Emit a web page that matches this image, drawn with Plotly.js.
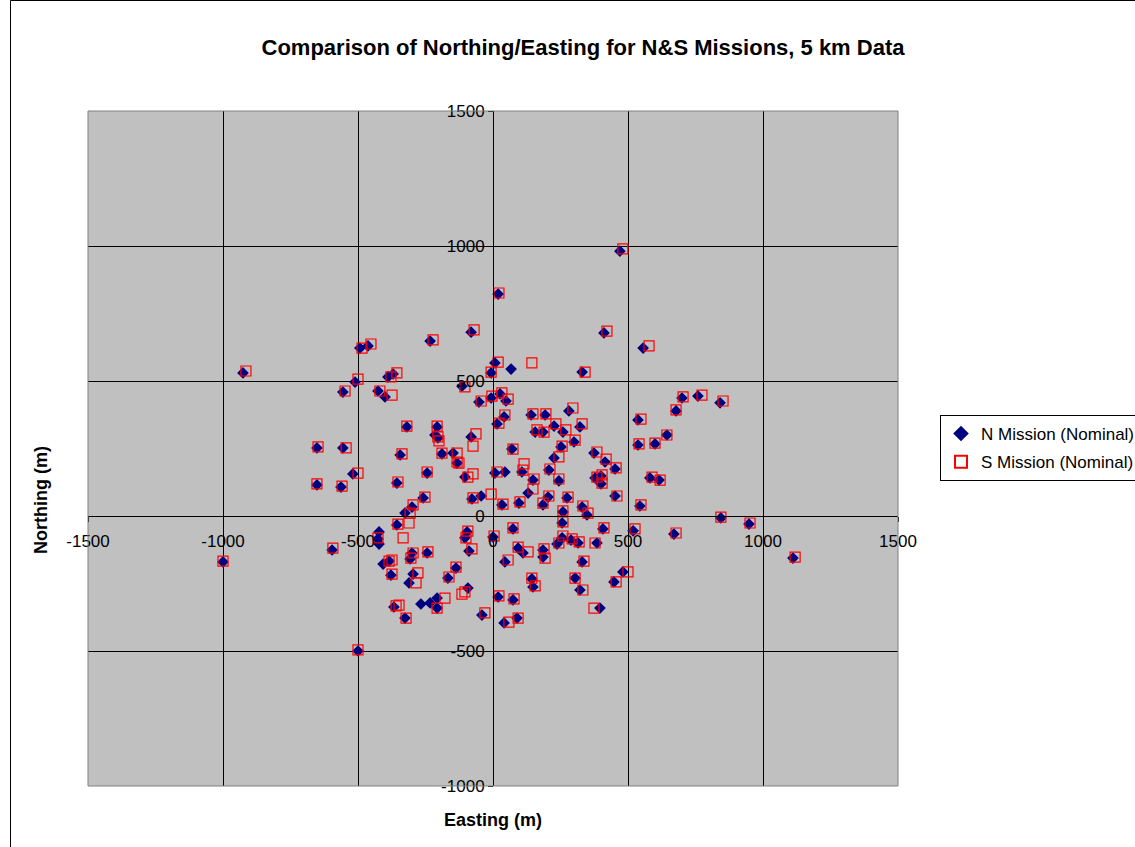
<!DOCTYPE html>
<html>
<head>
<meta charset="utf-8">
<script src="https://cdn.plot.ly/plotly-3.0.1.min.js"></script>
<style>html,body{margin:0;padding:0;background:#fff;}#chart{width:1135px;height:847px;}</style>
</head>
<body>
<div id="chart"></div>
<script>
// N Mission (Nominal): easting / northing in metres
const nEasting = [470,19,-81,411,-233,-493,-463,556,-926,7,67,330,-7,-115,-511,-556,-389,-370,-426,-400,-52,-7,26,48,41,15,141,193,281,226,322,156,185,259,300,252,226,207,244,374,378,-319,-207,-215,-204,-81,70,-344,-189,-148,-133,-244,-104,7,44,107,148,130,204,274,330,348,259,185,96,33,-44,-78,-259,-300,-326,700,759,841,678,537,644,537,600,415,452,400,400,581,615,452,544,844,948,407,519,670,1111,481,448,396,-596,-1000,-500,-422,-426,-422,-356,-407,-385,-378,-367,-96,-104,-89,0,74,93,111,185,185,237,256,289,315,385,256,330,304,322,144,148,44,19,74,-41,41,89,-300,-244,-307,-296,-311,-167,-137,-93,-267,-233,-207,-207,-326,-652,-556,-519,-652,-563,-356];
const nNorthing = [981,822,681,678,648,622,630,622,530,567,544,533,530,481,496,459,515,526,463,441,422,437,452,426,367,341,374,374,389,333,330,311,311,311,274,256,215,170,130,233,141,330,330,300,289,293,248,226,230,233,196,159,144,159,163,163,133,85,70,67,33,4,15,41,48,41,74,63,67,33,11,437,444,419,389,356,300,263,267,200,174,148,119,141,133,74,37,-7,-30,-48,-55,-67,-156,-207,-244,-341,-126,-170,-500,-59,-85,-104,-33,-178,-167,-219,-337,-59,-81,-130,-78,-48,-119,-137,-126,-152,-104,-81,-89,-100,-100,-26,-170,-230,-274,-233,-263,-170,-300,-311,-367,-396,-378,-137,-137,-159,-215,-248,-230,-193,-267,-326,-322,-304,-341,-378,252,252,156,115,107,122];
// S Mission (Nominal): easting / northing in metres
const sEasting = [481,22,-70,422,-222,-485,-452,578,-915,19,144,341,-7,-104,-500,-548,-378,-356,-419,-374,-44,-4,33,56,44,22,148,196,296,233,330,163,189,270,304,256,244,211,244,385,385,-319,-207,-204,-200,-63,-74,74,-337,-189,-133,-133,-126,-244,-93,-74,15,111,115,152,148,207,278,333,352,259,185,100,37,-7,-74,-252,-296,-307,704,774,852,678,548,644,541,600,419,456,404,404,589,619,459,548,844,952,411,526,678,1119,500,456,374,-593,-1000,-500,-426,-352,-385,-374,-374,-359,-348,-311,-333,-93,-100,-78,4,74,93,130,189,193,244,259,293,319,378,259,337,304,333,144,156,56,22,78,-30,59,93,-296,-241,-304,-278,-285,-163,-137,-104,-115,-178,-207,-322,-648,-544,-500,-652,-559,-352];
const sNorthing = [989,826,689,685,652,622,637,630,537,570,567,533,533,478,507,463,515,530,463,448,426,444,456,433,374,344,378,378,400,341,341,319,311,319,281,259,219,174,137,237,144,333,333,293,278,304,259,248,230,233,233,200,196,163,144,156,163,170,193,137,100,74,70,37,11,19,48,52,44,81,67,70,41,11,441,448,426,393,359,300,267,270,211,178,152,122,144,133,74,41,-4,-26,-44,-48,-63,-152,-207,-244,-341,-119,-167,-496,-81,-30,-167,-163,-215,-333,-330,-26,-81,-56,-81,-122,-74,-44,-115,-133,-122,-156,-100,-74,-85,-96,-100,-22,-167,-230,-274,-230,-259,-163,-296,-307,-359,-393,-378,-137,-133,-156,-211,-248,-226,-189,-281,-289,-304,-341,-378,256,252,159,119,111,126];

const seriesNames = ['N Mission (Nominal)', 'S Mission (Nominal)'];
const xTicks = [-1500,-1000,-500,0,500,1000,1500];
const yTicks = [-1000,-500,0,500,1000,1500];

const FONT = 'Liberation Sans, Arial, sans-serif';

const traces = [
  {
    type: 'scatter', mode: 'markers', name: seriesNames[0], legendgroup: 'n',
    x: nEasting, y: nNorthing,
    marker: {symbol: 'diamond', size: 9, color: '#000080', line: {width: 0}}
  },
  {
    type: 'scatter', mode: 'markers', name: seriesNames[1], legendgroup: 's',
    x: sEasting, y: sNorthing,
    marker: {symbol: 'square-open', size: 10, color: '#FF0000', line: {width: 1.2, color: '#FF0000'}}
  }
];

const L = 88, R = 898, T = 111, B = 786;
const W = R - L, H = B - T;
const px2x = p => (p - L) / W;
const py2y = p => (B - p) / H;

const layout = {
  width: 1135, height: 847,
  margin: {l: L, r: 1135 - R, t: T, b: 847 - B, pad: 0, autoexpand: false},
  paper_bgcolor: '#FFFFFF',
  plot_bgcolor: '#C0C0C0',
  font: {family: FONT, color: '#000000', size: 17},
  title: {
    text: '<b>Comparison of Northing/Easting for N&S Missions, 5 km Data</b>',
    font: {family: FONT, size: 22, color: '#000'},
    x: 583 / 1135, xref: 'container', xanchor: 'center',
    y: 1 - 47 / 847, yref: 'container', yanchor: 'middle'
  },
  xaxis: {
    range: [-1500, 1500], tickvals: xTicks, ticktext: xTicks.map(String),
    anchor: 'free', position: 0.4, automargin: false,
    showgrid: true, gridcolor: '#000000', gridwidth: 1,
    zeroline: false, showline: true, linecolor: '#000000', linewidth: 1,
    ticks: 'outside', ticklen: 5, tickcolor: '#000', tickwidth: 1,
    ticklabelstandoff: 5,
    tickfont: {family: FONT, size: 17, color: '#000'},
    fixedrange: true
  },
  yaxis: {
    range: [-1000, 1500], tickvals: yTicks, ticktext: yTicks.map(String),
    anchor: 'free', position: 0.5, automargin: false,
    showgrid: true, gridcolor: '#000000', gridwidth: 1,
    zeroline: false, showline: true, linecolor: '#000000', linewidth: 1,
    ticks: 'outside', ticklen: 5, tickcolor: '#000', tickwidth: 1,
    tickfont: {family: FONT, size: 17, color: '#000'},
    fixedrange: true
  },
  annotations: [
    {text: '<b>Easting (m)</b>', xref: 'paper', yref: 'paper', x: 0.5, y: py2y(820),
     xanchor: 'center', yanchor: 'middle', showarrow: false, font: {family: FONT, size: 18, color: '#000'}},
    {text: '<b>Northing (m)</b>', xref: 'paper', yref: 'paper', x: px2x(41), y: py2y(500),
     xanchor: 'center', yanchor: 'middle', showarrow: false, textangle: -90, font: {family: FONT, size: 18, color: '#000'}}
  ],
  shapes: [
    {type: 'rect', xref: 'paper', yref: 'paper', x0: 0, x1: 1, y0: 0, y1: 1,
     line: {color: '#808080', width: 1}, fillcolor: 'rgba(0,0,0,0)', layer: 'above'},
    {type: 'rect', xref: 'paper', yref: 'paper', x0: px2x(10.5), x1: px2x(1140), y0: py2y(850), y1: py2y(0.5),
     line: {color: '#000000', width: 1}, fillcolor: 'rgba(0,0,0,0)'}
  ],
  legend: {
    x: px2x(940), xanchor: 'left', y: py2y(448), yanchor: 'middle',
    bgcolor: '#FFFFFF', bordercolor: '#000000', borderwidth: 1,
    font: {family: FONT, size: 17, color: '#000'},
    itemsizing: 'constant', itemwidth: 30,
    traceorder: 'grouped', tracegroupgap: 3
  },
  showlegend: true
};

Plotly.newPlot('chart', traces, layout, {displayModeBar: false, staticPlot: true});
</script>
</body>
</html>
